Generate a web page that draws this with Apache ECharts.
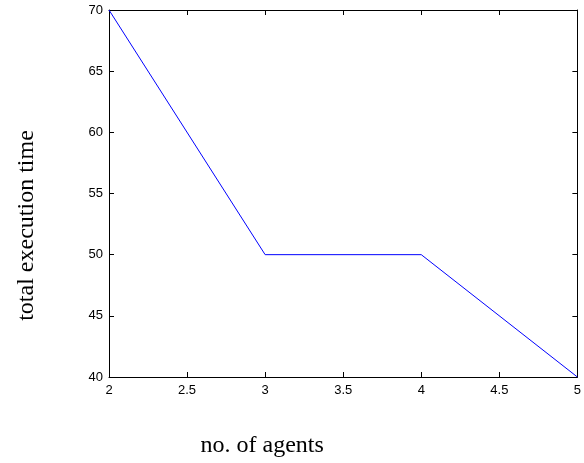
<!DOCTYPE html>
<html>
<head>
<meta charset="utf-8">
<script src="https://cdn.jsdelivr.net/npm/echarts@6/dist/echarts.min.js"></script>
<style>
html, body { margin: 0; padding: 0; background: #fff; }
#main { width: 584px; height: 463px; }
</style>
</head>
<body>
<div id="main"></div>
<script>
var agents = [2, 3, 4, 5];
var execTime = [70, 50, 50, 40];

var chart = echarts.init(document.getElementById('main'), null, { renderer: 'canvas' });

var labelFont = { color: '#000', fontSize: 13, fontFamily: 'Liberation Sans, Arial, sans-serif' };
var nameFont = { color: '#000', fontSize: 24, fontFamily: 'Liberation Serif, Times New Roman, serif' };
var axisLine = { show: true, lineStyle: { color: '#000', width: 1 } };
var ticks = { show: true, inside: true, length: 5, lineStyle: { color: '#000' } };

var option = {
    backgroundColor: '#ffffff',
    animation: false,
    grid: { left: 109, right: 3, top: 10, bottom: 80, containLabel: false },
    xAxis: [{
        type: 'value',
        min: 2, max: 5, interval: 0.5,
        name: 'no. of agents',
        nameLocation: 'middle',
        nameGap: 57,
        // matlab puts the label left of the axis centre
        nameTextStyle: Object.assign({ padding: [0, 162, 0, 0] }, nameFont),
        axisLine: axisLine,
        axisTick: ticks,
        axisLabel: Object.assign({ margin: 7 }, labelFont),
        splitLine: { show: false }
    }, {
        type: 'value',
        position: 'top',
        min: 2, max: 5, interval: 0.5,
        axisLine: axisLine,
        axisTick: ticks,
        axisLabel: { show: false },
        splitLine: { show: false }
    }],
    yAxis: [{
        type: 'value',
        min: 40, max: 70, interval: 5,
        name: 'total execution time',
        nameLocation: 'middle',
        nameGap: 70,
        nameTextStyle: Object.assign({ padding: [0, 64, 0, 0] }, nameFont),
        axisLine: axisLine,
        axisTick: ticks,
        axisLabel: Object.assign({ margin: 6 }, labelFont),
        splitLine: { show: false }
    }, {
        type: 'value',
        position: 'right',
        min: 40, max: 70, interval: 5,
        axisLine: axisLine,
        axisTick: ticks,
        axisLabel: { show: false },
        splitLine: { show: false }
    }],
    series: [{
        type: 'line',
        data: agents.map(function (a, i) { return [a, execTime[i]]; }),
        showSymbol: false,
        lineStyle: { color: '#0000ff', width: 1 },
        itemStyle: { color: '#0000ff' }
    }]
};

chart.setOption(option);
</script>
</body>
</html>
